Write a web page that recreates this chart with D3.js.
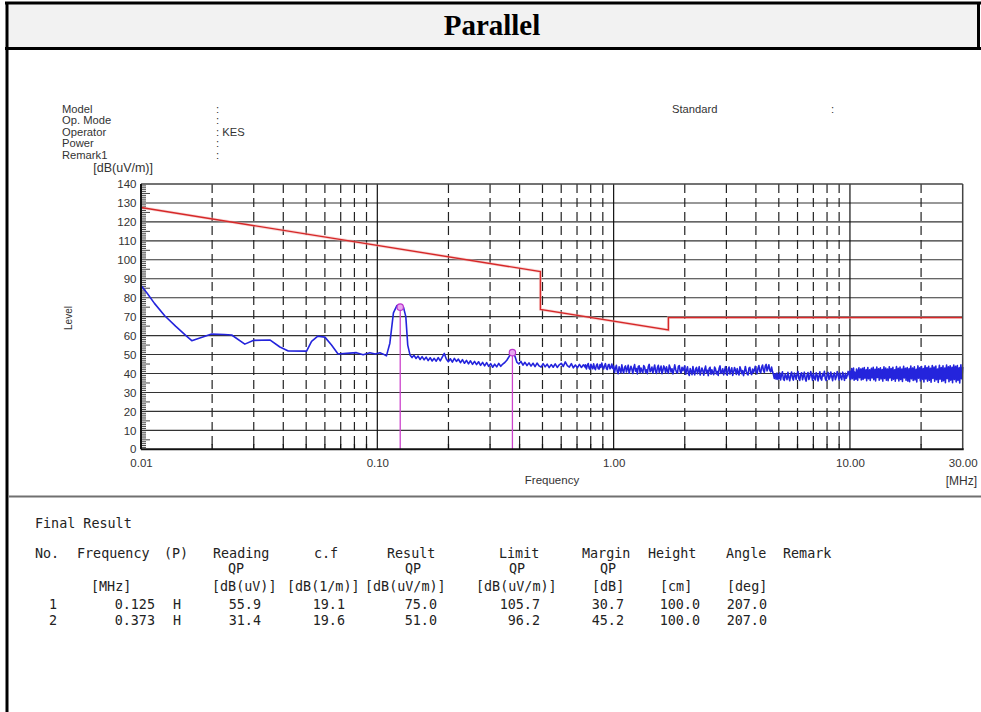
<!DOCTYPE html>
<html><head><meta charset="utf-8">
<script src="https://cdn.jsdelivr.net/npm/d3@7"></script>
<style>html,body{margin:0;padding:0;background:#fff;}svg{display:block;}</style>
</head><body>
<svg id="chart" width="981" height="712"></svg>
<script>
// ---------------- data ----------------
const pageTitle = "Parallel";
const infoLabels = ["Model", "Op. Mode", "Operator", "Power", "Remark1"];
const infoValues = ["", "", "KES", "", ""];
const standardLabel = "Standard";

const yTicks = [0, 10, 20, 30, 40, 50, 60, 70, 80, 90, 100, 110, 120, 130, 140];
const xTickValues = [0.01, 0.1, 1, 10, 30];
const xTickLabels = ["0.01", "0.10", "1.00", "10.00", "30.00"];
const decadeLines = [0.1, 1, 10];
const minorLines = [0.02,0.03,0.04,0.05,0.06,0.07,0.08,0.09,0.2,0.3,0.4,0.5,0.6,0.7,0.8,0.9,2,3,4,5,6,7,8,9,20];

// limit line (QP)
const limitFreq  = [0.01, 0.49, 0.49, 1.705, 1.705, 30];
const limitLevel = [127.6, 93.8, 73.8, 63.0, 69.5, 69.5];

// measured trace, low-frequency part (freq MHz, level dB(uV/m))
const traceFreq  = [0.0100,0.0106,0.0114,0.0126,0.0140,0.0155,0.0164,0.0180,0.0199,0.0225,0.0242,0.0275,0.0300,0.0351,0.0387,0.0420,0.0502,0.0527,0.0560,0.0600,0.0640,0.0682,0.0740,0.0816,0.0871,0.0930,0.0980,0.1025,0.1060,0.1093,0.1130,0.1170,0.1210,0.1250,0.1290,0.1320,0.1345];
const traceLevel = [86.5,82.5,77.0,70.5,65.0,60.0,57.3,59.0,60.8,60.6,60.3,55.5,57.5,57.7,54.0,51.9,51.8,57.0,59.7,59.2,55.0,50.3,50.6,51.0,49.9,51.0,50.3,50.9,50.2,49.3,56.0,72.0,75.8,76.0,75.0,70.0,55.0];

// measured trace, swept part: each band is [start MHz, stop MHz] with the sampled levels
const sweepBands = [[0.1375, 0.76], [0.76, 1], [1, 2], [2, 5], [5, 10], [10, 30]];
const sweepLevels0 = [49.8,48.4,49.6,47.9,49.2,47.4,48.9,47.2,48.6,46.8,48.3,46.6,48.0,46.5,48.4,46.7,48.7,50.6,47.6,46.2,47.8,46.0,48.0,46.4,47.6,45.7,47.3,45.4,46.9,45.1,46.7,44.8,46.4,44.7,46.2,44.3,45.9,44.0,45.7,43.8,45.2,43.3,44.9,43.5,45.3,43.8,45.0,45.8,47.0,48.7,50.5,51.3,49.2,46.0,45.0,46.4,44.4,45.9,44.2,45.6,43.9,45.4,43.6,45.5,44.0,43.4,45.2,43.5,44.9,43.1,44.7,43.3,45.1,43.2,44.6,45.4,43.7,46.1,44.2,43.4,45.2,43.0,44.5,43.0,44.8,43.2,44.6,43.2];
const sweepLevels1 = [44.6,42.4,44.2,45.3,42.8,42.2,44.9,43.4,42.5,45.1,42.9,42.0,44.3,45.0,42.6,42.3,44.7,43.2,45.5,43.6,42.4,44.0,45.2,42.7,42.1,44.4,44.8,42.5,43.1,45.0,42.8,42.3];
const sweepLevels2 = [43.9,40.6,42.8,44.3,41.0,39.9,43.5,42.1,40.4,44.6,41.7,40.2,43.2,44.0,40.8,42.5,44.4,40.1,41.9,43.8,42.3,40.0,43.0,44.7,41.2,42.6,39.8,43.6,44.1,40.5,42.9,41.4,40.3,44.2,43.3,40.7,42.0,39.9,43.7,44.8,40.9,41.8,43.4,40.2,42.4,44.5,41.1,40.0,43.1,44.3,40.6,42.2,43.9,39.9,41.6,44.0,42.7,40.4,43.5,41.3,40.1,44.4,43.0,40.8,42.5,39.8,41.9,44.6,42.1,40.7,40.2,43.8,44.2,41.0,40.3,43.3,41.5,42.8,44.1];
const sweepLevels3 = [42.9,39.6,41.8,43.5,40.1,39.0,42.6,41.2,39.4,43.7,40.8,39.3,42.3,43.2,39.9,41.6,43.6,39.2,41.0,42.9,41.4,39.1,42.1,43.9,40.3,41.7,38.9,42.7,43.3,39.6,42.0,40.5,39.4,43.4,42.4,39.8,41.1,39.0,42.8,44.0,40.0,40.9,42.5,39.3,41.5,43.6,40.2,39.1,42.2,43.4,39.7,41.3,43.0,39.0,40.7,43.1,41.8,39.5,42.6,40.4,39.2,43.5,42.1,39.9,41.6,38.9,41.0,43.7,41.2,39.8,39.3,42.9,43.3,40.1,39.4,42.4,40.6,41.9,43.8,40.7,39.9,42.8,44.2,41.1,40.3,43.3,44.5,41.6,40.6,43.9,44.8,41.4,42.9,44.6,41.8,40.9,43.4,41.0,39.6,37.4,39.8,37.0,40.2,36.9,39.5];
const sweepLevels4 = [37.2,40.3,36.6,39.4,40.9,37.0,36.4,39.9,38.3,36.8,40.6,38.0,36.2,39.1,40.8,37.5,36.5,40.2,38.9,36.9,39.6,41.1,37.3,36.3,39.8,40.4,36.7,38.6,40.7,37.1,36.0,39.3,40.5,36.8,38.2,41.0,39.0,36.4,40.1,37.6,36.6,40.4,39.2,36.1,38.4,40.9,37.4,36.5,40.0,38.7,41.2,37.2,36.3,39.5,40.6,36.9,37.8,40.8,38.5,36.2,39.7,40.3,36.7,38.1,41.0,39.4,36.6,40.2,37.9,36.8,40.7,38.8,36.4,40.1,37.5,38.9,41.1,39.6,37.3];
const sweepLevels5 = [41.2,36.8,40.5,42.6,37.3,39.1,42.9,36.5,40.8,38.2,
  37.0,42.3,39.6,36.4,41.7,43.0,37.8,38.9,42.4,36.6,
  40.2,42.8,36.9,39.4,43.1,37.5,38.3,42.0,36.2,41.3,
  43.2,37.2,39.8,41.9,36.3,40.6,42.7,37.6,38.7,43.3,
  36.7,40.9,42.2,36.1,39.3,43.4,37.9,38.1,42.5,36.4,
  41.5,43.0,37.1,39.7,42.1,36.0,40.4,43.5,37.4,38.6,
  42.9,36.5,41.1,42.4,36.2,39.2,43.6,37.7,38.4,42.6,
  36.3,40.7,43.3,37.0,39.9,42.0,35.9,41.4,43.7,37.3,
  38.8,42.8,36.1,40.3,43.4,36.8,39.5,42.3,35.8,41.0,
  43.8,37.6,38.5,42.7,36.4,40.8,43.1,36.0,39.6,42.5,
  35.7,41.6,43.9,37.2,38.9,42.9,36.3,40.1,43.5,36.6,
  39.0,42.2,35.6,41.2,44.0,37.5,38.2,43.0,36.1,40.5,
  43.7,36.9,39.8,42.6,35.5,41.8,44.1,37.1,38.6,43.2,
  36.0,40.9,43.8,36.4,39.3,42.8,35.4,41.5,44.2,37.4,
  38.0,43.4,35.9,40.2,43.9,36.7,39.7,42.4,35.3,41.9,
  44.3,37.0,38.8,43.1,35.8,40.6,44.0,36.2,39.4,42.9,
  35.2,42.1,44.4,37.3,38.3,43.6,35.7,41.0,44.1,36.5,
  39.1,43.3,35.1,41.7,44.5,36.8,38.7,43.8,35.6,40.4,
  44.2,36.3,39.9,43.0,35.0,42.0,44.6,37.2,38.5,43.5];
const sweepLevels = [sweepLevels0, sweepLevels1, sweepLevels2, sweepLevels3, sweepLevels4, sweepLevels5];

// final result peaks
const peakFreq  = [0.125, 0.373];
const peakLevel = [75.0, 51.0];

// table
const tableHeader = ["No.", "Frequency", "(P)", "Reading", "c.f", "Result", "Limit", "Margin", "Height", "Angle", "Remark"];
const tableSub    = ["", "", "", "QP", "", "QP", "QP", "QP", "", "", ""];
const tableUnits  = ["", "[MHz]", "", "[dB(uV)]", "[dB(1/m)]", "[dB(uV/m)]", "[dB(uV/m)]", "[dB]", "[cm]", "[deg]", ""];
const resultNo      = ["1", "2"];
const resultFreq    = ["0.125", "0.373"];
const resultPol     = ["H", "H"];
const resultReading = [55.9, 31.4];
const resultCf      = [19.1, 19.6];
const resultLevel   = [75.0, 51.0];
const resultLimit   = [105.7, 96.2];
const resultMargin  = [30.7, 45.2];
const resultHeight  = [100.0, 100.0];
const resultAngle   = [207.0, 207.0];

// ---------------- drawing ----------------
const svg = d3.select("#chart");
const sans = "'Liberation Sans', Arial, sans-serif";
const mono = "'DejaVu Sans Mono', 'Liberation Mono', monospace";

// page frame / header
svg.append("rect").attr("x", 7).attr("y", 3).attr("width", 972).attr("height", 45).attr("fill", "#f2f2f2");
svg.append("line").attr("x1", 5).attr("x2", 981).attr("y1", 3).attr("y2", 3).attr("stroke", "#000").attr("stroke-width", 3);
svg.append("line").attr("x1", 5).attr("x2", 981).attr("y1", 48.5).attr("y2", 48.5).attr("stroke", "#000").attr("stroke-width", 3);
svg.append("line").attr("x1", 7).attr("x2", 7).attr("y1", 2).attr("y2", 712).attr("stroke", "#000").attr("stroke-width", 3);
svg.append("line").attr("x1", 978.5).attr("x2", 978.5).attr("y1", 2).attr("y2", 50).attr("stroke", "#000").attr("stroke-width", 3);
svg.append("text").attr("x", 492).attr("y", 35).attr("text-anchor", "middle")
  .attr("font-family", "'Liberation Serif', 'Times New Roman', serif").attr("font-weight", "bold")
  .attr("font-size", 29).attr("fill", "#000").text(pageTitle);
svg.append("line").attr("x1", 9).attr("x2", 981).attr("y1", 496.5).attr("y2", 496.5).attr("stroke", "#707070").attr("stroke-width", 2);

// info block
const info = svg.append("g").attr("font-family", sans).attr("font-size", 11.2).attr("fill", "#333");
infoLabels.forEach((t, i) => {
  const yy = 113 + i * 11.4;
  info.append("text").attr("x", 62).attr("y", yy).text(t);
  info.append("text").attr("x", 216).attr("y", yy).text(":" + (infoValues[i] ? " " + infoValues[i] : ""));
});
info.append("text").attr("x", 672).attr("y", 113).text(standardLabel);
info.append("text").attr("x", 831).attr("y", 113).text(":");

// scales
const x = d3.scaleLog().domain([0.01, 30]).range([141, 962.7]);
const y = d3.scaleLinear().domain([0, 140]).range([449.3, 184]);
const [x0, x1] = x.range();
const [yb, yt] = y.range();

const g = svg.append("g");

// horizontal grid
g.selectAll(".hg").data(yTicks.filter(d => d > 0 && d < 140)).enter().append("line")
  .attr("x1", x0).attr("x2", x1).attr("y1", d => y(d)).attr("y2", d => y(d))
  .attr("stroke", "#333").attr("stroke-width", 1.1);
// minor vertical dashed
g.selectAll(".vm").data(minorLines).enter().append("line")
  .attr("x1", d => x(d)).attr("x2", d => x(d)).attr("y1", yt).attr("y2", yb)
  .attr("stroke", "#222").attr("stroke-width", 1.2).attr("stroke-dasharray", "9,5");
// decade vertical solid
g.selectAll(".vd").data(decadeLines).enter().append("line")
  .attr("x1", d => x(d)).attr("x2", d => x(d)).attr("y1", yt).attr("y2", yb)
  .attr("stroke", "#111").attr("stroke-width", 1.2);
// y minor ticks (every 1 dB)
g.selectAll(".ym").data(d3.range(0, 141)).enter().append("line")
  .attr("x1", x0).attr("x2", d => x0 + (d % 10 === 0 ? 0 : (d % 5 === 0 ? 9 : 5)))
  .attr("y1", d => y(d)).attr("y2", d => y(d))
  .attr("stroke", "#333").attr("stroke-width", 0.9);
// x minor ticks at bottom
g.selectAll(".xm").data(minorLines).enter().append("line")
  .attr("x1", d => x(d)).attr("x2", d => x(d)).attr("y1", yb).attr("y2", yb - 5)
  .attr("stroke", "#111").attr("stroke-width", 1.4);

// limit line
const line = d3.line().x(d => x(d[0])).y(d => y(d[1]));
const limitPts = limitFreq.map((f, i) => [f, limitLevel[i]]);
g.append("path").datum(limitPts).attr("d", line).attr("fill", "none")
  .attr("stroke", "#f4b0b0").attr("stroke-width", 3).attr("opacity", 0.5);
g.append("path").datum(limitPts).attr("d", line).attr("fill", "none")
  .attr("stroke", "#d62828").attr("stroke-width", 1.4);

// trace
let tracePts = traceFreq.map((f, i) => [f, traceLevel[i]]);
sweepBands.forEach((b, k) => {
  const vals = sweepLevels[k];
  const n = vals.length;
  vals.forEach((v, i) => tracePts.push([b[0] * Math.pow(b[1] / b[0], i / (n - 1)), v]));
});
g.append("path").datum(tracePts).attr("d", line).attr("fill", "none")
  .attr("stroke", "#2424dc").attr("stroke-width", 1.6).attr("stroke-linejoin", "round");

// peak markers
peakFreq.forEach((f, i) => {
  g.append("line").attr("x1", x(f)).attr("x2", x(f)).attr("y1", y(peakLevel[i]) + 3).attr("y2", yb)
    .attr("stroke", "#cc44cc").attr("stroke-width", 1.3);
  g.append("circle").attr("cx", x(f)).attr("cy", y(peakLevel[i])).attr("r", 3.2)
    .attr("fill", "#e8a8f0").attr("stroke", "#bb33cc").attr("stroke-width", 1.2);
});

// frame
g.append("line").attr("x1", x0).attr("x2", x1).attr("y1", yt).attr("y2", yt).attr("stroke", "#444").attr("stroke-width", 1.5);
g.append("line").attr("x1", x1).attr("x2", x1).attr("y1", yt).attr("y2", yb).attr("stroke", "#444").attr("stroke-width", 1.5);
g.append("line").attr("x1", x0).attr("x2", x1 + 1).attr("y1", yb).attr("y2", yb).attr("stroke", "#111").attr("stroke-width", 2);
g.append("line").attr("x1", x0).attr("x2", x0).attr("y1", yt).attr("y2", yb).attr("stroke", "#111").attr("stroke-width", 2);

// axes labels
const yAxis = d3.axisLeft(y).tickValues(yTicks).tickSize(0).tickPadding(4.5);
const ya = svg.append("g").attr("transform", `translate(${x0},0)`).call(yAxis);
ya.select(".domain").remove();
ya.selectAll("text").attr("font-family", sans).attr("font-size", 11.5).attr("fill", "#333");

const xAxis = d3.axisBottom(x).tickValues(xTickValues).tickFormat((d, i) => xTickLabels[i]).tickSize(0).tickPadding(10);
const xa = svg.append("g").attr("transform", `translate(0,${yb})`).call(xAxis);
xa.select(".domain").remove();
xa.selectAll("text").attr("font-family", sans).attr("font-size", 11.5).attr("fill", "#333");

const lab = svg.append("g").attr("font-family", sans).attr("fill", "#333");
lab.append("text").attr("x", 153).attr("y", 172).attr("text-anchor", "end").attr("font-size", 12.5).text("[dB(uV/m)]");
lab.append("text").attr("transform", "translate(72,318) rotate(-90)").attr("text-anchor", "middle").attr("font-size", 10).text("Level");
lab.append("text").attr("x", 552).attr("y", 484).attr("text-anchor", "middle").attr("font-size", 11.5).text("Frequency");
lab.append("text").attr("x", 977).attr("y", 485).attr("text-anchor", "end").attr("font-size", 12).text("[MHz]");

// table
const tb = svg.append("g").attr("font-family", mono).attr("font-size", 13.4).attr("fill", "#222");
tb.append("text").attr("x", 35).attr("y", 527.5).text("Final Result");
const headX = [35, 77, 164, 213, 314, 387, 499, 582, 648, 726, 783];
tableHeader.forEach((t, i) => tb.append("text").attr("x", headX[i]).attr("y", 557.5).text(t));
const subX = [0, 0, 0, 228, 0, 405, 509, 600, 0, 0, 0];
tableSub.forEach((t, i) => { if (t) tb.append("text").attr("x", subX[i]).attr("y", 572.5).text(t); });
const unitX = [0, 91, 0, 212, 287, 365, 476, 592, 660, 727, 0];
tableUnits.forEach((t, i) => { if (t) tb.append("text").attr("x", unitX[i]).attr("y", 590.5).text(t); });
const cols = [
  {v: resultNo, x: 57, f: d => d},
  {v: resultFreq, x: 155, f: d => d},
  {v: resultPol, x: 181, f: d => d},
  {v: resultReading, x: 261, f: d => d.toFixed(1)},
  {v: resultCf, x: 345, f: d => d.toFixed(1)},
  {v: resultLevel, x: 437, f: d => d.toFixed(1)},
  {v: resultLimit, x: 540, f: d => d.toFixed(1)},
  {v: resultMargin, x: 624, f: d => d.toFixed(1)},
  {v: resultHeight, x: 700, f: d => d.toFixed(1)},
  {v: resultAngle, x: 767, f: d => d.toFixed(1)}
];
cols.forEach(c => c.v.forEach((d, r) => {
  tb.append("text").attr("x", c.x).attr("y", 608.5 + r * 16).attr("text-anchor", "end").text(c.f(d));
}));
</script>
</body></html>
